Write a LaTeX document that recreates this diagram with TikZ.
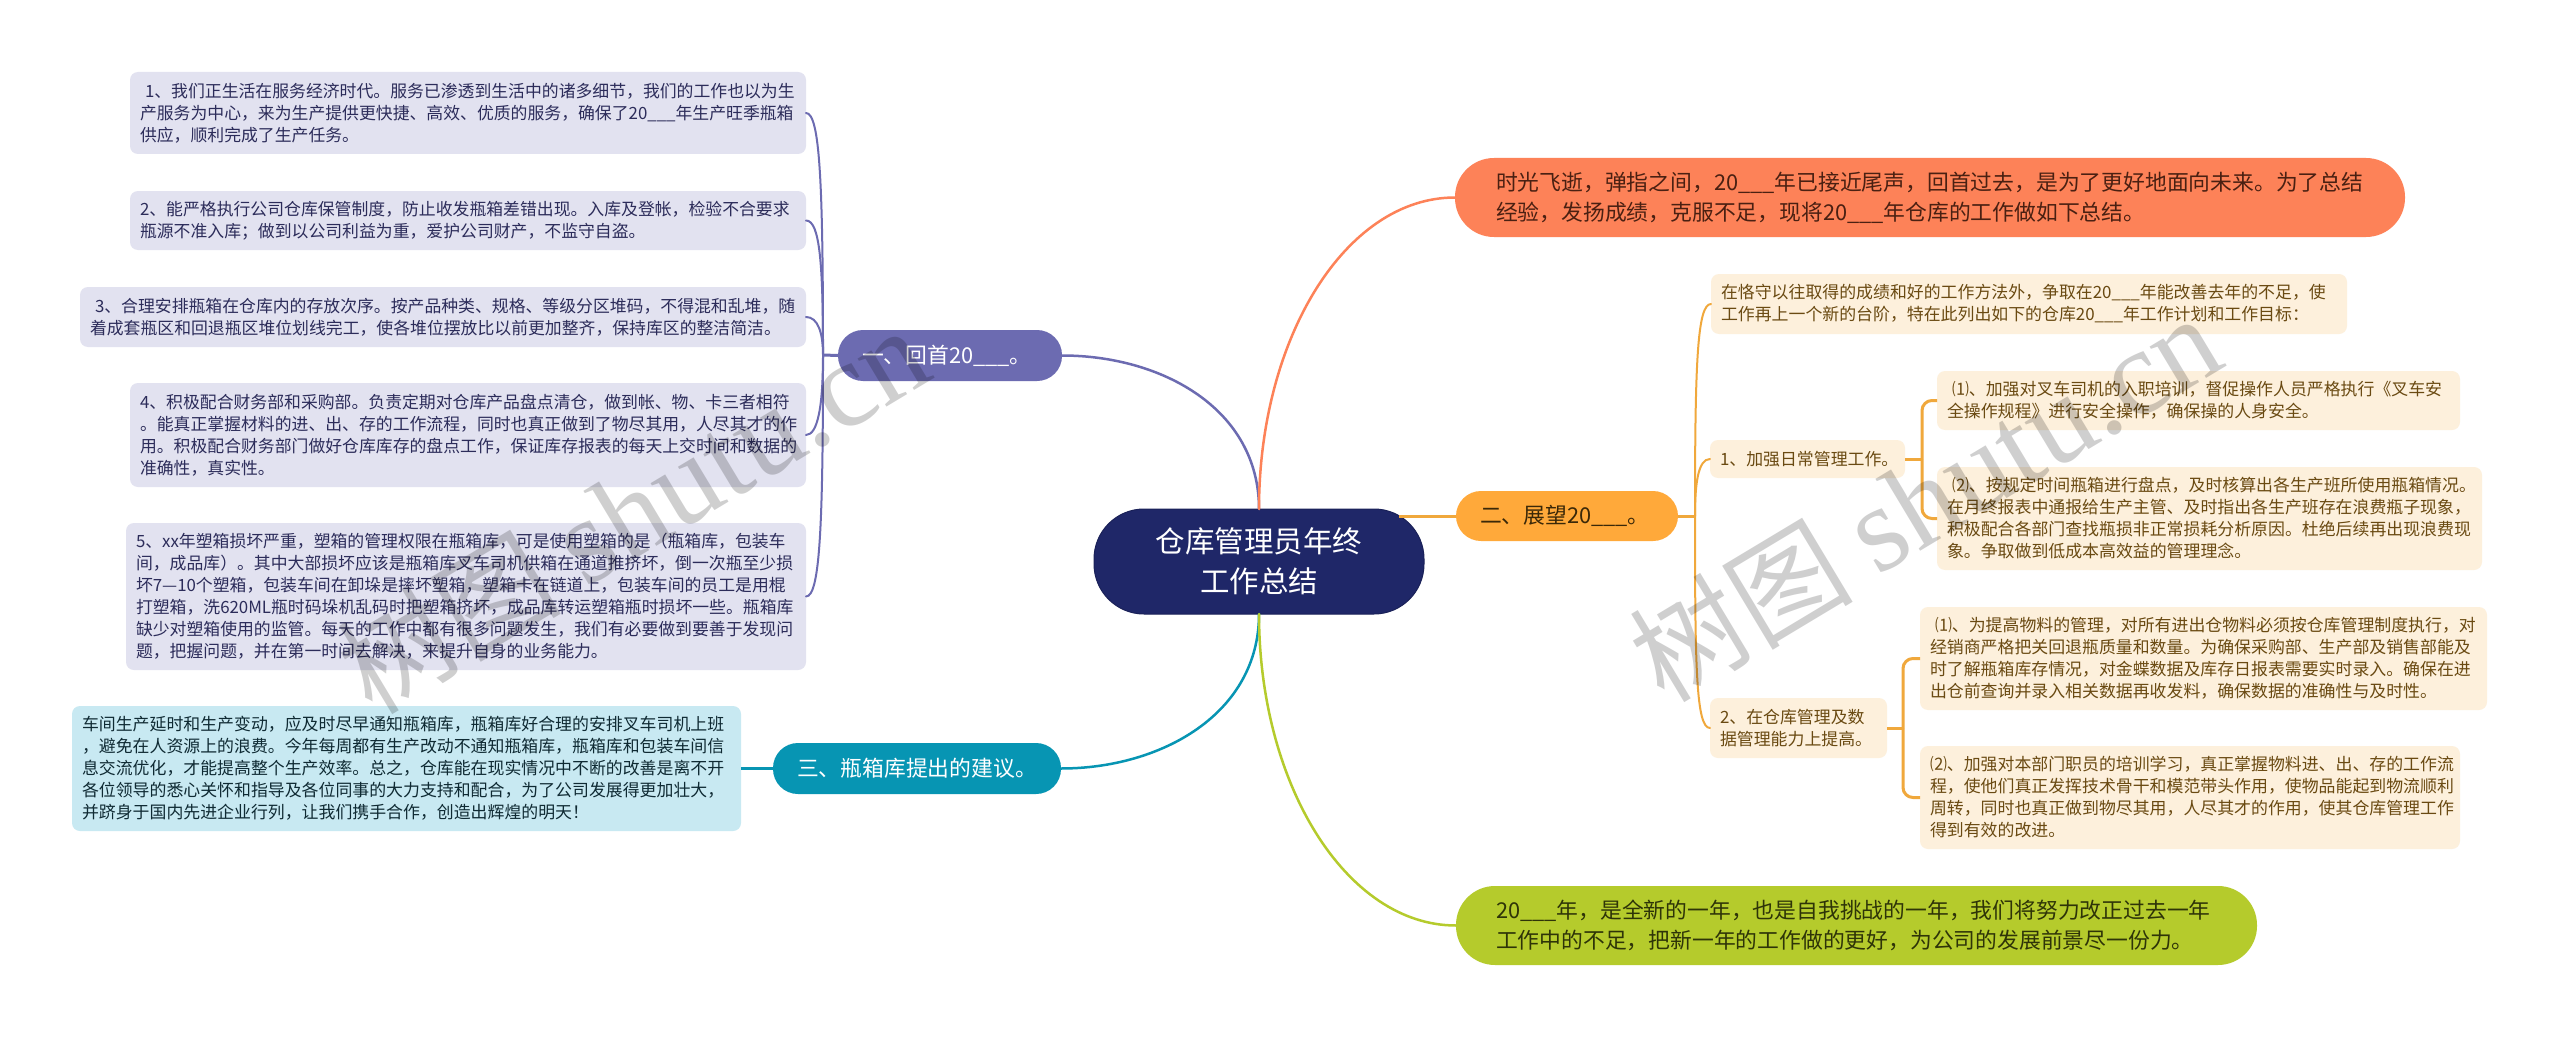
\documentclass[tikz,border=0pt]{standalone}
\usepackage{fontspec}
\setmainfont{Noto Sans CJK SC}
\newfontfamily\wmlatin{Liberation Serif}
\usetikzlibrary{calc}
\definecolor{cRoot}{HTML}{1F2768}
\definecolor{cOrange}{HTML}{FD8258}
\definecolor{cOrangeT}{HTML}{4A2012}
\definecolor{cPur}{HTML}{6C6BB1}
\definecolor{cPurL}{HTML}{E2E2F0}
\definecolor{cPurT}{HTML}{2C2C5A}
\definecolor{cYel}{HTML}{FFA93A}
\definecolor{cYelL}{HTML}{FDF0DC}
\definecolor{cYelT}{HTML}{6A4A12}
\definecolor{cYelD}{HTML}{3A2808}
\definecolor{cLine}{HTML}{F0A83C}
\definecolor{cTeal}{HTML}{0795B3}
\definecolor{cTealL}{HTML}{C8E9F2}
\definecolor{cTealT}{HTML}{0F2A33}
\definecolor{cGrn}{HTML}{B5CB2C}
\definecolor{cGrnT}{HTML}{2E3408}
\tikzset{
  tw/.style={text width=#1pt},
  base/.style={inner ysep=0pt,align=left},
  leafP/.style={base,fill=cPurL,rounded corners=8pt,text=cPurT,font=\fontsize{16.85pt}{22pt}\selectfont,inner xsep=10pt},
  leafY/.style={base,fill=cYelL,rounded corners=8pt,text=cYelT,font=\fontsize{16.9pt}{22pt}\selectfont,inner xsep=10pt},
  leafT/.style={base,fill=cTealL,rounded corners=8pt,text=cTealT,font=\fontsize{16.9pt}{22pt}\selectfont,inner xsep=10pt},
  rootN/.style={base,fill=cRoot,draw=cRoot!85!black,line width=1pt,rounded corners=50pt,text=white,align=center,font=\fontsize{29.5pt}{40pt}\selectfont,inner xsep=0pt},
  pill/.style={base,rounded corners=#1,font=\fontsize{21.8pt}{30pt}\selectfont,inner xsep=24pt},
  wmark/.style={text=black,opacity=0.19,text opacity=0.19,rotate=31,anchor=base west,inner sep=0pt,font=\fontsize{112pt}{112pt}\selectfont},
  wmlat/.style={},
  lnMain/.style={line width=2.5pt,line cap=round},
  lnLeaf/.style={line width=2pt,line cap=round},
  lnSub/.style={line width=3pt,rounded corners=10pt},
}
\newcommand{\lead}{\hspace*{5pt}}
\newcommand{\us}{\_\_\_}
\newcommand{\wmtext}{树图 {\wmlatin\fontsize{122pt}{122pt}\selectfont shutu.cn}}
\newcommand{\bx}[7]{%
  \pgfmathsetmacro\bxX{(#2+#4)/2}\pgfmathsetmacro\bxY{(#3+#5)/2}%
  \pgfmathsetmacro\bxW{#4-#2}\pgfmathsetmacro\bxH{#5-#3}%
  \node[#6,minimum height=\bxH pt,outer sep=0pt,minimum width=\bxW pt] (#1) at (\bxX,\bxY) {#7};}
\begin{document}
\begin{tikzpicture}[x=1pt,y=-1pt]
\useasboundingbox[fill=white] (0,0) rectangle (2560,1038);
% root
\bx{root}{1094}{509}{1424}{614}{rootN,tw=330}{仓库管理员年终\\工作总结}
% top-level pills
\bx{ptop}{1455}{158}{2405}{237}{pill=39pt,fill=cOrange,text=cOrangeT,inner xsep=41pt,tw=868}{时光飞逝，弹指之间，20\us{}年已接近尾声，回首过去，是为了更好地面向未来。为了总结\\经验，发扬成绩，克服不足，现将20\us{}年仓库的工作做如下总结。}
\bx{pone}{838}{330}{1062}{381}{pill=25pt,fill=cPur,text=white,tw=176}{一、回首20\us{}。}
\bx{ptwo}{1456}{491}{1678}{541}{pill=25pt,fill=cYel,text=cYelD,tw=174}{二、展望20\us{}。}
\bx{pthree}{773}{743}{1061}{794}{pill=25pt,fill=cTeal,text=white,tw=240}{三、瓶箱库提出的建议。}
\bx{pbot}{1456}{886}{2257}{965}{pill=39pt,fill=cGrn,text=cGrnT,inner xsep=40pt,tw=721}{20\us{}年，是全新的一年，也是自我挑战的一年，我们将努力改正过去一年\\工作中的不足，把新一年的工作做的更好，为公司的发展前景尽一份力。}
% left leaves
\bx{la}{130}{72}{806}{154}{leafP,tw=656}{\lead 1、我们正生活在服务经济时代。服务已渗透到生活中的诸多细节，我们的工作也以为生\\产服务为中心，来为生产提供更快捷、高效、优质的服务，确保了20\us{}年生产旺季瓶箱\\供应，顺利完成了生产任务。}
\bx{lb}{130}{191}{806}{250}{leafP,tw=656}{2、能严格执行公司仓库保管制度，防止收发瓶箱差错出现。入库及登帐，检验不合要求\\瓶源不准入库；做到以公司利益为重，爱护公司财产，不监守自盗。}
\bx{lc}{80}{287}{806}{347}{leafP,tw=706}{\lead 3、合理安排瓶箱在仓库内的存放次序。按产品种类、规格、等级分区堆码，不得混和乱堆，随\\着成套瓶区和回退瓶区堆位划线完工，使各堆位摆放比以前更加整齐，保持库区的整洁简洁。}
\bx{ld}{130}{383}{806}{487}{leafP,tw=656}{4、积极配合财务部和采购部。负责定期对仓库产品盘点清仓，做到帐、物、卡三者相符\\。能真正掌握材料的进、出、存的工作流程，同时也真正做到了物尽其用，人尽其才的作\\用。积极配合财务部门做好仓库库存的盘点工作，保证库存报表的每天上交时间和数据的\\准确性，真实性。}
\bx{le}{126}{523}{806}{670}{leafP,tw=660}{5、xx年塑箱损坏严重，塑箱的管理权限在瓶箱库，可是使用塑箱的是（瓶箱库，包装车\\间，成品库）。其中大部损坏应该是瓶箱库叉车司机供箱在通道推挤坏，倒一次瓶至少损\\坏7—10个塑箱，包装车间在卸垛是摔坏塑箱，塑箱卡在链道上，包装车间的员工是用棍\\打塑箱，洗620ML瓶时码垛机乱码时把塑箱挤坏，成品库转运塑箱瓶时损坏一些。瓶箱库\\缺少对塑箱使用的监管。每天的工作中都有很多问题发生，我们有必要做到要善于发现问\\题，把握问题，并在第一时间去解决，来提升自身的业务能力。}
\bx{lt}{72}{706}{741}{831}{leafT,tw=649}{车间生产延时和生产变动，应及时尽早通知瓶箱库，瓶箱库好合理的安排叉车司机上班\\，避免在人资源上的浪费。今年每周都有生产改动不通知瓶箱库，瓶箱库和包装车间信\\息交流优化，才能提高整个生产效率。总之，仓库能在现实情况中不断的改善是离不开\\各位领导的悉心关怀和指导及各位同事的大力支持和配合，为了公司发展得更加壮大，\\并跻身于国内先进企业行列，让我们携手合作，创造出辉煌的明天！}
% right leaves
\bx{ry}{1711}{274}{2347}{334}{leafY,tw=616}{在恪守以往取得的成绩和好的工作方法外，争取在20\us{}年能改善去年的不足，使\\工作再上一个新的台阶，特在此列出如下的仓库20\us{}年工作计划和工作目标：}
\bx{rs}{1710}{440}{1905}{478}{leafY,tw=175}{1、加强日常管理工作。}
\bx{rsa}{1937}{371}{2460}{430}{leafY,tw=503}{\lead ⑴、加强对叉车司机的入职培训，督促操作人员严格执行《叉车安\\全操作规程》进行安全操作，确保操的人身安全。}
\bx{rsb}{1937}{467}{2482}{570}{leafY,tw=525}{\lead ⑵、按规定时间瓶箱进行盘点，及时核算出各生产班所使用瓶箱情况。\\在月终报表中通报给生产主管、及时指出各生产班存在浪费瓶子现象，\\积极配合各部门查找瓶损非正常损耗分析原因。杜绝后续再出现浪费现\\象。争取做到低成本高效益的管理理念。}
\bx{rt}{1710}{698}{1887}{758}{leafY,tw=157}{2、在仓库管理及数\\据管理能力上提高。}
\bx{rta}{1920}{607}{2487}{710}{leafY,tw=547}{\lead ⑴、为提高物料的管理，对所有进出仓物料必须按仓库管理制度执行，对\\经销商严格把关回退瓶质量和数量。为确保采购部、生产部及销售部能及\\时了解瓶箱库存情况，对金蝶数据及库存日报表需要实时录入。确保在进\\出仓前查询并录入相关数据再收发料，确保数据的准确性与及时性。}
\bx{rtb}{1920}{746}{2460}{849}{leafY,tw=520}{⑵、加强对本部门职员的培训学习，真正掌握物料进、出、存的工作流\\程，使他们真正发挥技术骨干和模范带头作用，使物品能起到物流顺利\\周转，同时也真正做到物尽其用，人尽其才的作用，使其仓库管理工作\\得到有效的改进。}
% junction points
\coordinate (jl) at (823,355);
\coordinate (jr) at (1695,516);
\coordinate (ja) at (1922,459);
\coordinate (jb) at (1903,728);
% main branches
\draw[lnMain,cPur] (root.north) to[out=90,in=0,out distance=100pt,in distance=100pt] (pone.east);
\draw[lnMain,cOrange] (root.north) to[out=90,in=180,out distance=170pt,in distance=110pt] (ptop.west);
\draw[lnMain,cTeal] (root.south) to[out=-90,in=0,out distance=100pt,in distance=100pt] (pthree.east);
\draw[lnMain,cGrn] (root.south) to[out=-90,in=180,out distance=170pt,in distance=110pt] (pbot.west);
\draw[lnSub,cLine] (ptwo.west) -- ($(root.east |- ptwo.west)+(-25,0)$);
% left bracket
\draw[lnSub,cPur] (pone.west) -- (jl);
\draw[lnLeaf,cPur] (jl) to[out=90,in=0,out distance=170pt,in distance=14pt] (la.east);
\draw[lnLeaf,cPur] (jl) to[out=90,in=0,out distance=90pt,in distance=14pt] (lb.east);
\draw[lnLeaf,cPur] (jl) to[out=90,in=0,out distance=22pt,in distance=12pt] (lc.east);
\draw[lnLeaf,cPur] (jl) to[out=-90,in=0,out distance=50pt,in distance=12pt] (ld.east);
\draw[lnLeaf,cPur] (jl) to[out=-90,in=0,out distance=170pt,in distance=14pt] (le.east);
\draw[lnSub,cTeal] (lt.east) -- (pthree.west);
% right bracket
\draw[lnSub,cLine] (ptwo.east) -- (jr);
\draw[lnLeaf,cLine] (jr) to[out=90,in=180,out distance=150pt,in distance=14pt] (ry.west);
\draw[lnLeaf,cLine] (jr) to[out=90,in=180,out distance=32pt,in distance=12pt] (rs.west);
\draw[lnLeaf,cLine] (jr) to[out=-90,in=180,out distance=150pt,in distance=14pt] (rt.west);
% sub brackets
\draw[lnSub,cLine] (rs.east) -- (ja);
\draw[lnSub,cLine] (ja) |- (rsa.west);
\draw[lnSub,cLine] (ja) |- (rsb.west);
\draw[lnSub,cLine] (rt.east) -- (jb);
\draw[lnSub,cLine] (jb) |- (rta.west);
\draw[lnSub,cLine] (jb) |- (rtb.west);
% watermarks
\node[wmark] (wma) at (372,717) {\wmtext};
\node[wmark] (wmb) at (1664,705) {\wmtext};
\end{tikzpicture}
\end{document}
